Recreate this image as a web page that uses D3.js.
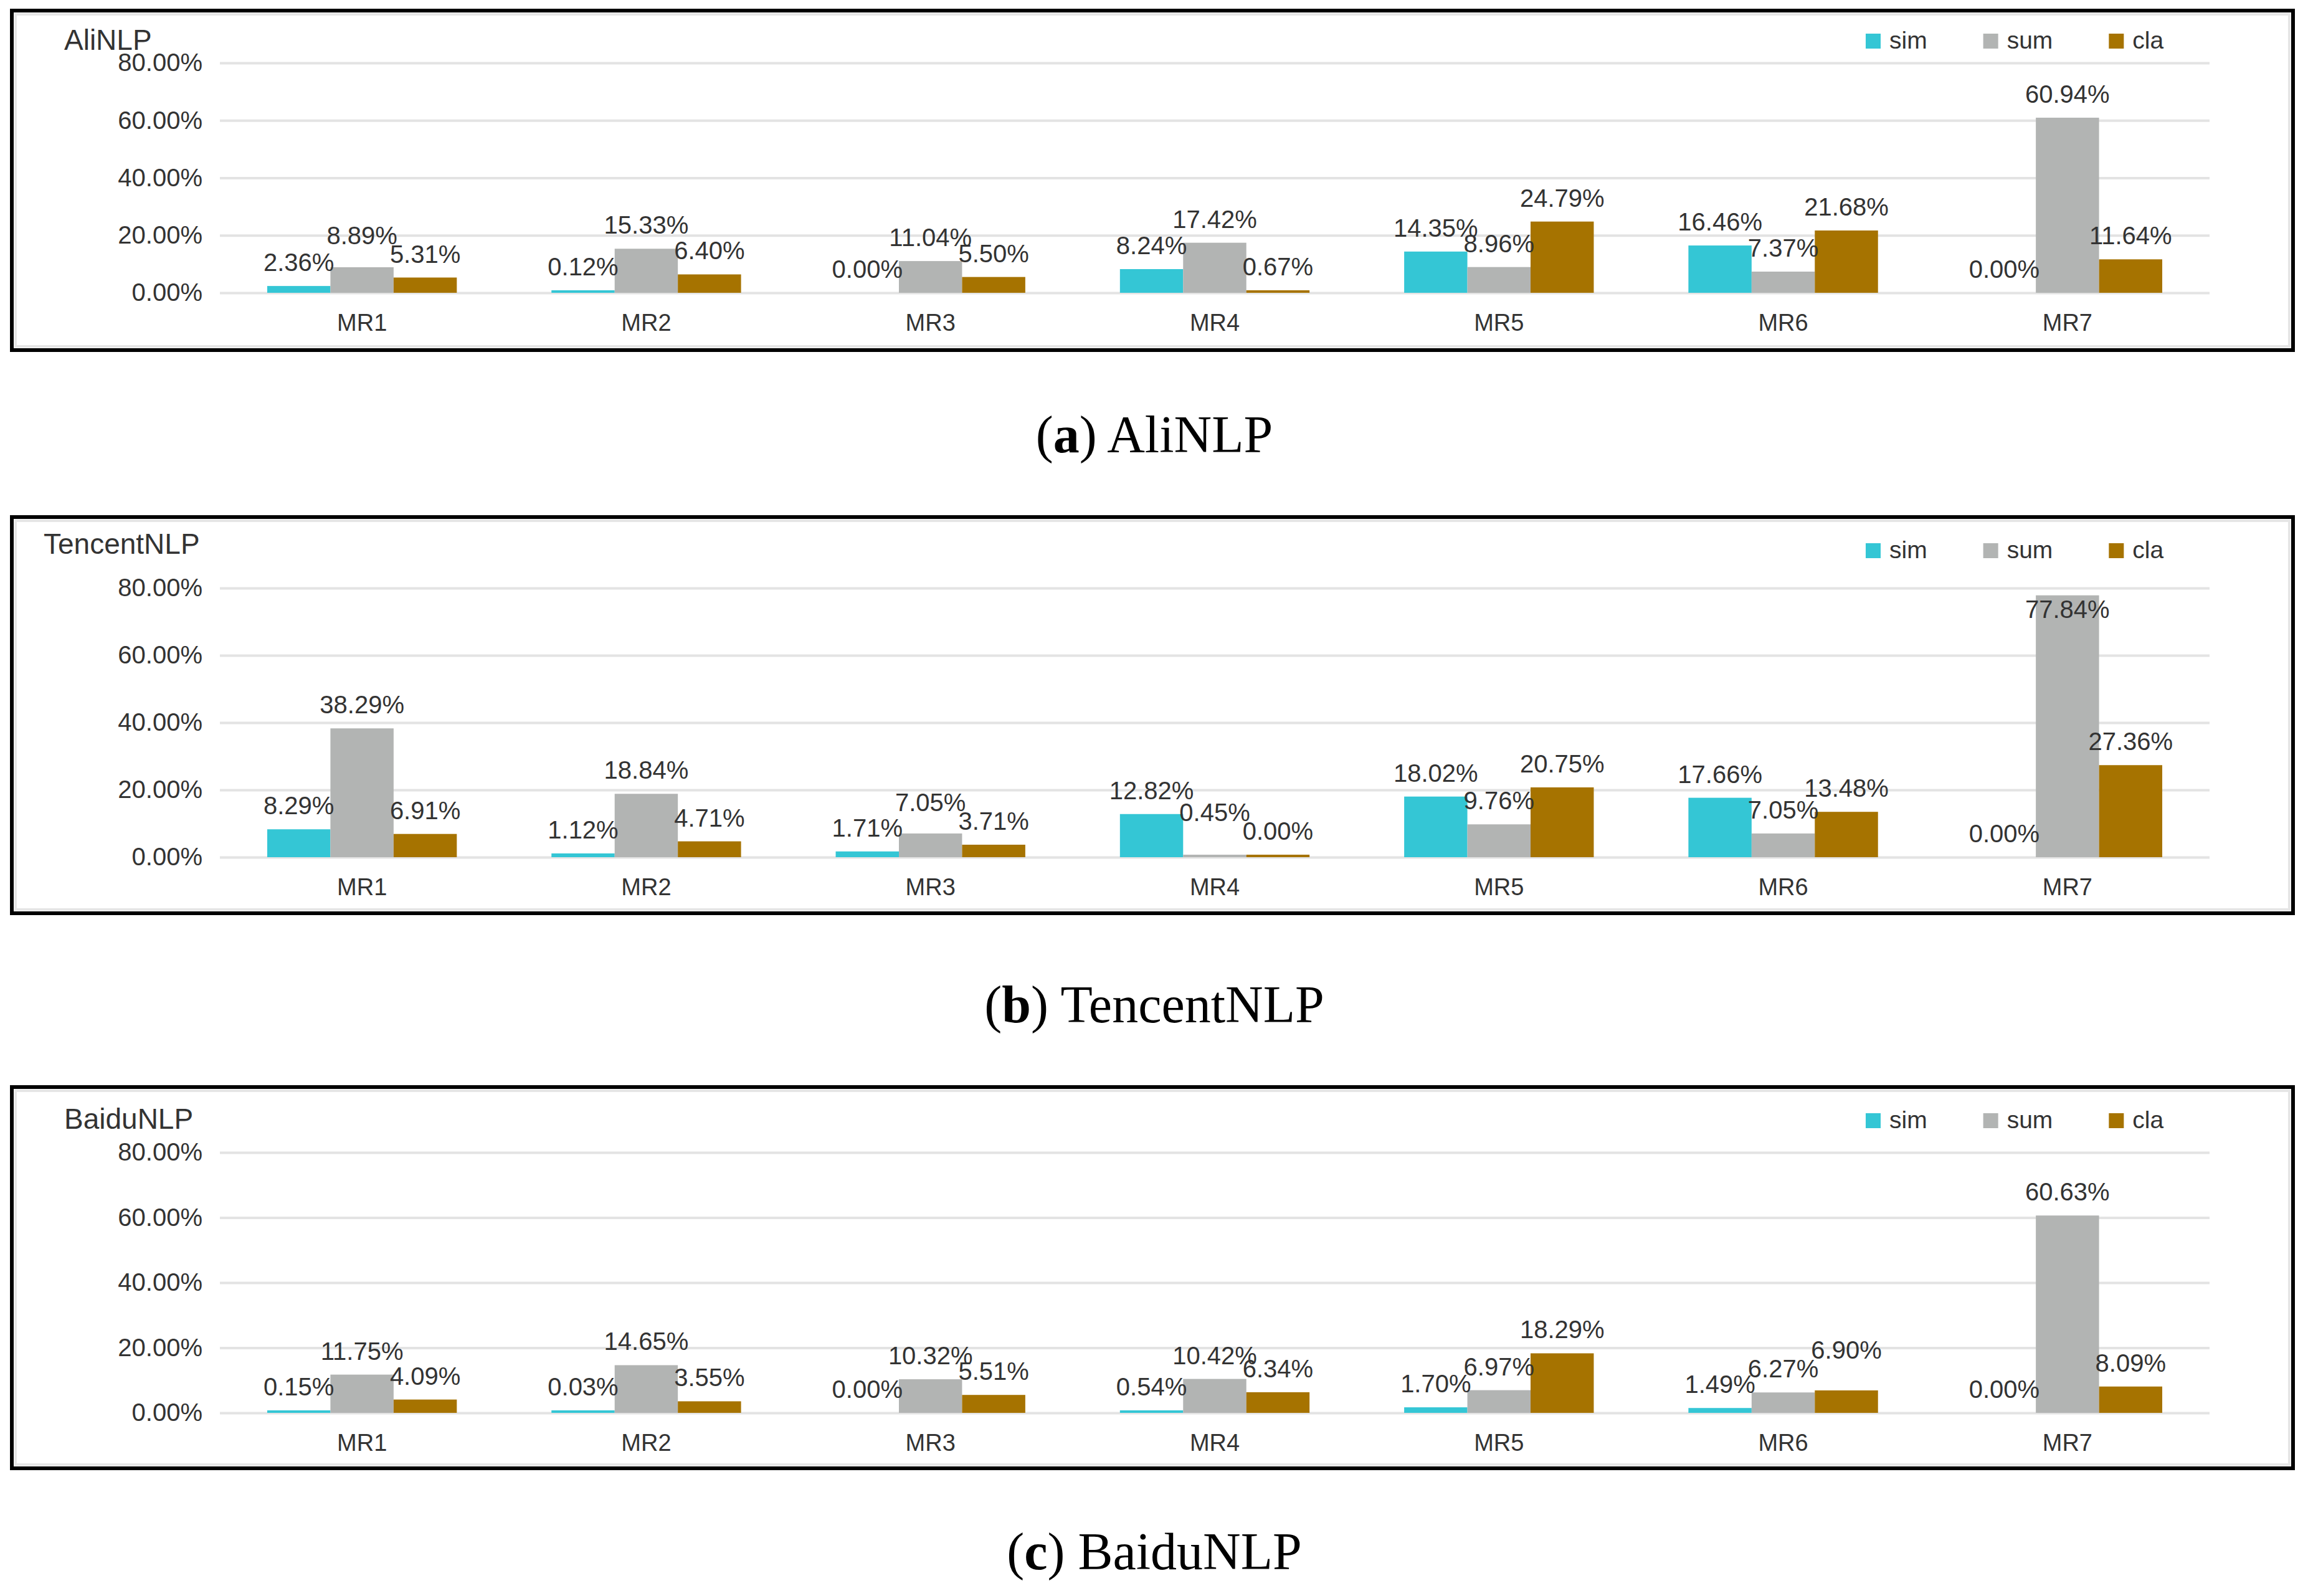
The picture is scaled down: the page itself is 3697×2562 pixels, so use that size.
<!DOCTYPE html>
<html>
<head>
  <meta charset="utf-8">
  <title></title>
  <style>
    body,html{
      margin:0;
      padding:0;
      background:#fff;
    }
    text{
      font-family: "Liberation Sans", Arial, Helvetica, sans-serif;
      fill:#333;
    }
    .caption{
      font-family: "Liberation Serif", "Times New Roman", serif;
      fill:#000;
    }
  </style>
</head>
<body>
  <div id="container"></div>
  <script src="https://d3js.org/d3.v7.min.js"></script>
  <script type="text/javascript">

    var categories = ['MR1','MR2','MR3','MR4','MR5','MR6','MR7'];
    var seriesNames = ['sim','sum','cla'];
    var yTicks = [0,20,40,60,80];
    var panelNames = ['AliNLP','TencentNLP','BaiduNLP'];
    var captionTags = ['a','b','c'];

    var aliSim = [2.36, 0.12, 0.00, 8.24, 14.35, 16.46, 0.00];
    var aliSum = [8.89, 15.33, 11.04, 17.42, 8.96, 7.37, 60.94];
    var aliCla = [5.31, 6.40, 5.50, 0.67, 24.79, 21.68, 11.64];

    var tencentSim = [8.29, 1.12, 1.71, 12.82, 18.02, 17.66, 0.00];
    var tencentSum = [38.29, 18.84, 7.05, 0.45, 9.76, 7.05, 77.84];
    var tencentCla = [6.91, 4.71, 3.71, 0.004, 20.75, 13.48, 27.36];

    var baiduSim = [0.15, 0.03, 0.00, 0.54, 1.70, 1.49, 0.00];
    var baiduSum = [11.75, 14.65, 10.32, 10.42, 6.97, 6.27, 60.63];
    var baiduCla = [4.09, 3.55, 5.51, 6.34, 18.29, 6.90, 8.09];

    var panelValues = [
      [aliSim, aliSum, aliCla],
      [tencentSim, tencentSum, tencentCla],
      [baiduSim, baiduSum, baiduCla]
    ];

    var colors = {sim:'#34c6d5', sum:'#b2b4b3', cla:'#a67300'};

    // layout of each framed panel (pixels)
    var W = 3697, H = 2562;
    var plotLeft = 353, plotRight = 3547;
    var layout = [
      {top:17,  bottom:562,  title:[103,80],   y80:101,  y0:470,  legend:78,   caption:726},
      {top:830, bottom:1466, title:[70,889],   y80:944,  y0:1376, legend:896,  caption:1641},
      {top:1745,bottom:2357, title:[103,1812], y80:1850, y0:2268, legend:1811, caption:2519}
    ];

    var fmt = function(v){ return d3.format('.2f')(v) + '%'; };

    var svg = d3.select('#container').append('svg')
      .attr('width', W).attr('height', H)
      .style('background-color', '#fff');

    var x0 = d3.scaleBand().domain(categories).range([plotLeft, plotRight]).padding(0);
    var groupW = x0.bandwidth()*0.667;
    var x1 = d3.scaleBand().domain(seriesNames).range([0, groupW]).padding(0);
    var groupOff = (x0.bandwidth() - groupW)/2;

    panelNames.forEach(function(name, p){
      var L = layout[p];
      var g = svg.append('g');
      var y = d3.scaleLinear().domain([0,80]).range([L.y0, L.y80]);

      // frame
      g.append('rect')
        .attr('x', 25).attr('y', L.top + 6)
        .attr('width', 3650).attr('height', L.bottom - L.top - 12)
        .attr('fill', 'none').attr('stroke', '#e6e6e6').attr('stroke-width', 4);
      g.append('rect')
        .attr('x', 19).attr('y', L.top)
        .attr('width', 3662).attr('height', L.bottom - L.top)
        .attr('fill', 'none').attr('stroke', '#000').attr('stroke-width', 6);

      // title
      g.append('text')
        .attr('x', L.title[0]).attr('y', L.title[1])
        .style('font-size', '46px')
        .text(name);

      // y axis + gridlines
      var yAxis = g.append('g')
        .attr('transform', 'translate(' + plotLeft + ',0)')
        .call(d3.axisLeft(y).tickValues(yTicks).tickFormat(fmt)
          .tickSizeInner(-(plotRight - plotLeft)).tickSizeOuter(0).tickPadding(28));
      yAxis.select('.domain').remove();
      yAxis.selectAll('line').attr('stroke', '#e3e3e3').attr('stroke-width', 4);
      yAxis.selectAll('text')
        .attr('fill', '#333')
        .style('font-size', '40px')
        .style('font-family', '"Liberation Sans", Arial, sans-serif');

      // x axis labels
      var xAxis = g.append('g')
        .attr('transform', 'translate(0,' + L.y0 + ')')
        .call(d3.axisBottom(x0).tickSize(0));
      xAxis.select('.domain').remove();
      xAxis.selectAll('text')
        .attr('dy', null).attr('y', 61)
        .attr('fill', '#333')
        .style('font-size', '38px')
        .style('font-family', '"Liberation Sans", Arial, sans-serif');

      // bars
      var vals = panelValues[p];
      var rows = [];
      categories.forEach(function(c, i){
        var grp = [];
        seriesNames.forEach(function(s, j){
          var v = vals[j][i];
          var h = L.y0 - y(v);
          if(v > 0 && h < 4){ h = 4; }
          var ly = L.y0 - h - 24;
          // no room above the bar: put the label just inside its top
          if(ly < L.y80){ ly = L.y0 - h + 36; }
          var d = {cat:c, series:s, value:v, h:h, ly:ly};
          grp.push(d);
          rows.push(d);
        });
        // lift one of two neighbouring labels that would sit on top of each other
        for(var k = 1; k<grp.length; k++){
          var a = grp[k-1], b = grp[k];
          if(Math.abs(a.ly - b.ly) < 20){
            if(a.value > b.value){ a.ly = b.ly - 30; } else { b.ly = a.ly - 30; }
          }
        }
      });

      g.append('g').selectAll('rect').data(rows).enter().append('rect')
        .attr('x', function(d){ return x0(d.cat) + groupOff + x1(d.series); })
        .attr('width', x1.bandwidth())
        .attr('y', function(d){ return L.y0 - d.h; })
        .attr('height', function(d){ return d.h; })
        .attr('fill', function(d){ return colors[d.series]; });

      // data labels
      g.append('g').selectAll('text').data(rows).enter().append('text')
        .attr('x', function(d){ return x0(d.cat) + groupOff + x1(d.series) + x1.bandwidth()/2; })
        .attr('y', function(d){ return d.ly; })
        .attr('text-anchor', 'middle')
        .style('font-size', '40px')
        .text(function(d){ return fmt(d.value); });

      // legend
      var lx = 2995;
      seriesNames.forEach(function(s){
        g.append('rect')
          .attr('x', lx).attr('y', L.legend - 24)
          .attr('width', 24).attr('height', 24)
          .attr('fill', colors[s]);
        var t = g.append('text')
          .attr('x', lx + 38).attr('y', L.legend)
          .style('font-size', '39px')
          .text(s);
        lx += 38 + t.node().getComputedTextLength() + 90;
      });

      // caption under the panel
      var cap = svg.append('text')
        .attr('class', 'caption')
        .attr('x', 1853).attr('y', L.caption)
        .attr('text-anchor', 'middle')
        .style('font-size', '84px');
      cap.append('tspan').text('(');
      cap.append('tspan').style('font-weight', 'bold').text(captionTags[p]);
      cap.append('tspan').text(') ' + name);
    });

  </script>
</body>
</html>
